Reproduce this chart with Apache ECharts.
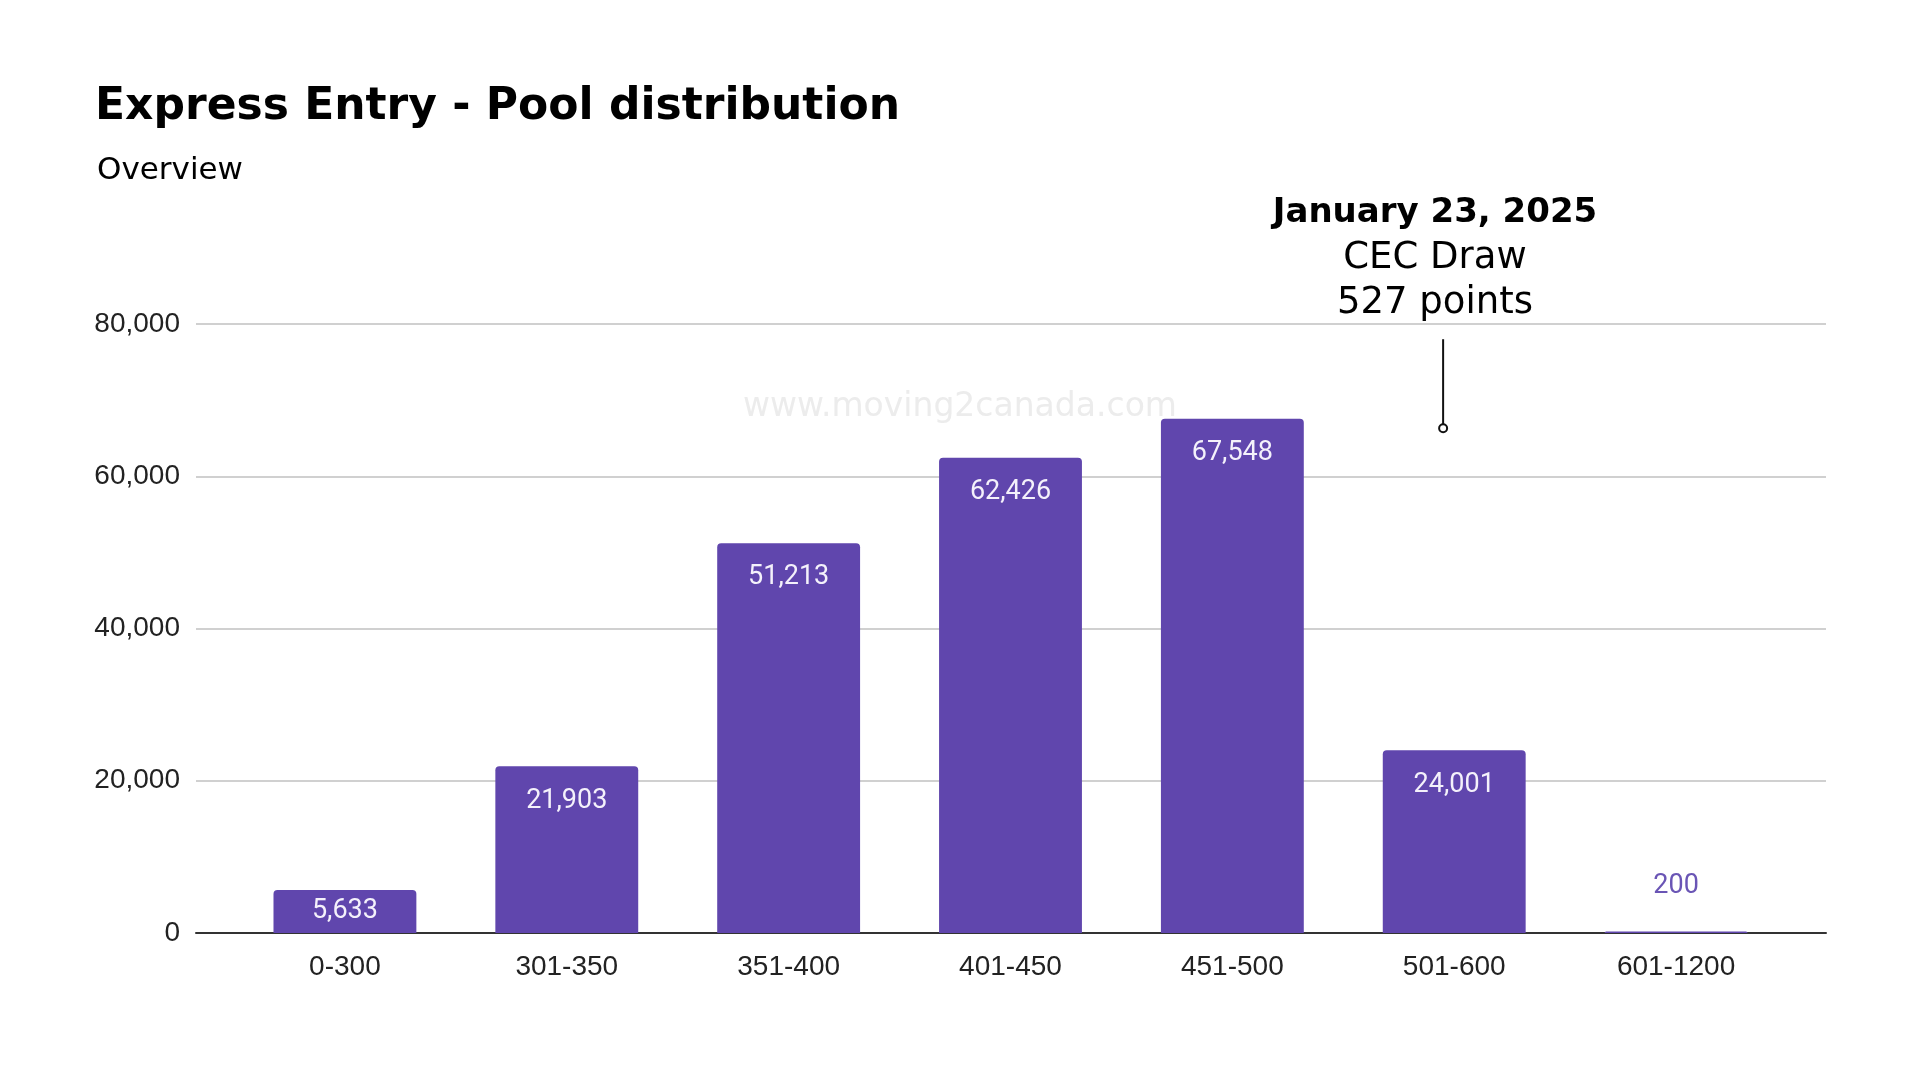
<!DOCTYPE html>
<html>
<head>
<meta charset="utf-8">
<script src="https://cdn.jsdelivr.net/npm/echarts@6/dist/echarts.min.js"></script>
<style>
  html, body { margin: 0; padding: 0; background: #fff; }
  #chart { width: 1920px; height: 1080px; }
</style>
</head>
<body>
<div id="chart"></div>
<script>
// score ranges and candidates in pool
const categories = ['0-300', '301-350', '351-400', '401-450', '451-500', '501-600', '601-1200']
const poolCounts = [5633, 21903, 51213, 62426, 67548, 24001, 200]
const yTicks = [0, 20000, 40000, 60000, 80000]

// pointer of the draw annotation (x in category index units, y values)
const drawPointer = [[4.95, 78000], [4.95, 66300]]

const barColor = '#6046ad'
const axisFont = '"Liberation Sans", Arial, sans-serif'
const headFont = '"DejaVu Sans", "Open Sans", sans-serif'

const chart = echarts.init(document.getElementById('chart'))

const fmt = v => v.toLocaleString('en-US')

const barData = poolCounts.map((v, i) => {
  const item = { value: v }
  if (v < 2000) {
    // too small: label sits above bar in bar colour
    item.label = { position: 'top', distance: 32, color: '#6a55b5' }
  } else if (v < 8000) {
    item.label = { position: 'inside' }
  }
  return item
})

const option = {
  backgroundColor: '#ffffff',
  animation: false,
  title: [
    {
      text: 'Express Entry - Pool distribution',
      left: 90,
      top: 79,
      textStyle: { fontFamily: headFont, fontWeight: 'bold', fontSize: 44, color: '#000', lineHeight: 48 }
    },
    {
      text: 'Overview',
      left: 92,
      top: 151,
      textStyle: { fontFamily: headFont, fontWeight: 'normal', fontSize: 31, color: '#000', lineHeight: 30 }
    },
    {
      text: '{b|January 23, 2025}\n{n|CEC Draw}\n{n|527 points}',
      left: 1430,
      top: 186,
      textAlign: 'center',
      textStyle: {
        rich: {
          b: { fontFamily: headFont, fontWeight: 'bold', fontSize: 34, color: '#000', lineHeight: 45, align: 'center' },
          n: { fontFamily: headFont, fontWeight: 'normal', fontSize: 37, color: '#000', lineHeight: 45, align: 'center' }
        }
      }
    }
  ],
  graphic: [
    {
      type: 'text',
      x: 960,
      y: 407,
      silent: true,
      style: {
        text: 'www.moving2canada.com',
        fontFamily: headFont,
        fontSize: 33,
        fill: '#ececec',
        align: 'center',
        verticalAlign: 'middle'
      }
    }
  ],
  grid: [
    // wide grid: gridlines + axis line
    { left: 196, right: 94, top: 324, bottom: 147 },
    // inner grid: bars and category labels
    { left: 234, right: 133, top: 324, bottom: 147 }
  ],
  xAxis: [
    {
      gridIndex: 0,
      type: 'category',
      data: categories,
      axisLine: { show: true, lineStyle: { color: '#333', width: 2 } },
      axisTick: { show: false },
      axisLabel: { show: false }
    },
    {
      gridIndex: 1,
      type: 'category',
      data: categories,
      axisLine: { show: false },
      axisTick: { show: false },
      axisLabel: { fontFamily: axisFont, fontSize: 28, color: '#222', margin: 20 }
    },
    {
      // hidden value axis aligned with category centres, for the pointer
      gridIndex: 1,
      type: 'value',
      min: -0.5,
      max: categories.length - 0.5,
      show: false
    }
  ],
  yAxis: [
    {
      gridIndex: 0,
      type: 'value',
      min: yTicks[0],
      max: yTicks[yTicks.length - 1],
      interval: yTicks[1] - yTicks[0],
      axisLine: { show: false },
      axisTick: { show: false },
      splitLine: { lineStyle: { color: '#d0d0d0', width: 2 } },
      axisLabel: { fontFamily: axisFont, fontSize: 28, color: '#222', margin: 16, formatter: fmt }
    },
    {
      gridIndex: 1,
      type: 'value',
      min: yTicks[0],
      max: yTicks[yTicks.length - 1],
      show: false
    }
  ],
  series: [
    {
      type: 'bar',
      xAxisIndex: 1,
      yAxisIndex: 1,
      barWidth: '64.4%',
      data: barData,
      itemStyle: { color: barColor, borderRadius: [4, 4, 0, 0] },
      label: {
        show: true,
        position: 'insideTop',
        distance: 21,
        fontFamily: 'Roboto, sans-serif',
        fontSize: 27,
        color: '#f4f1fb',
        formatter: p => fmt(p.value)
      }
    },
    {
      type: 'line',
      xAxisIndex: 2,
      yAxisIndex: 1,
      silent: true,
      lineStyle: { color: '#111', width: 2 },
      itemStyle: { color: '#fff', borderColor: '#111', borderWidth: 2 },
      data: [
        { value: drawPointer[0], symbol: 'none' },
        { value: drawPointer[1], symbol: 'circle', symbolSize: 8 }
      ]
    }
  ]
}

chart.setOption(option)
</script>
</body>
</html>
